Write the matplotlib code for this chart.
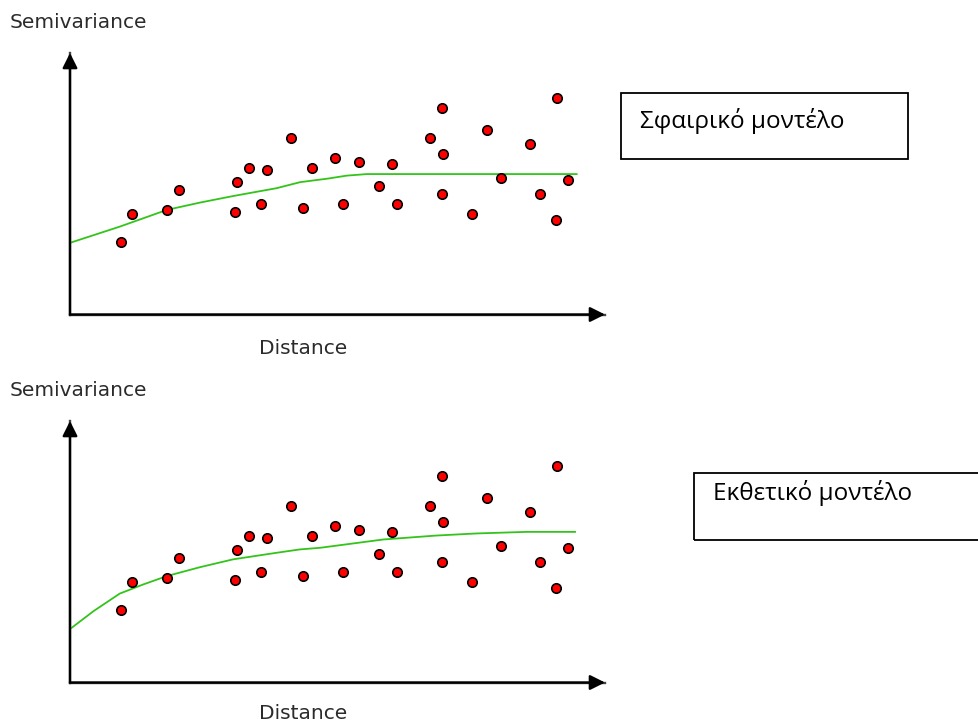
import matplotlib
matplotlib.use("Agg")
import matplotlib.pyplot as plt
from matplotlib.patches import Rectangle

# ---- data (arbitrary units: distance 0-100, semivariance 0-100) ----
dist = [9.6, 11.5, 18.2, 20.4, 30.9, 31.3, 33.5, 35.7, 36.9, 41.4,
        43.6, 45.2, 49.6, 51.1, 54.0, 57.8, 60.1, 61.2, 67.2, 69.5,
        69.8, 69.5, 75.1, 78.0, 80.6, 85.9, 87.8, 90.8, 91.1, 93.0]
semivar = [27.6, 38.4, 40.0, 47.6, 39.2, 50.7, 56.0, 42.3, 55.1, 67.6,
           40.6, 56.0, 59.8, 42.3, 58.3, 49.1, 57.4, 42.3, 67.6, 78.9,
           61.4, 46.1, 38.4, 70.6, 52.1, 65.2, 46.1, 36.1, 82.8, 51.4]

# spherical model curve
sph_x = [0.3, 9.3, 18.1, 24.3, 30.5, 38.6, 43.0, 48.3, 51.7, 55.5, 94.7]
sph_y = [27.6, 33.6, 40.0, 42.8, 45.3, 48.3, 50.6, 52.0, 53.1, 53.7, 53.7]

# exponential model curve
exp_x = [0.3, 4.4, 9.3, 13.7, 18.1, 24.3, 30.5, 38.6, 43.0, 46.7, 58.6, 68.5, 76.0, 85.4, 94.4]
exp_y = [20.9, 27.3, 34.0, 37.5, 40.7, 44.1, 47.1, 49.6, 50.9, 51.5, 54.7, 56.2, 57.0, 57.6, 57.6]

panels = [
    {"curve_x": sph_x, "curve_y": sph_y, "label": "Σφαιρικό μοντέλο"},
    {"curve_x": exp_x, "curve_y": exp_y, "label": "Εκθετικό μοντέλο"},
]

W, H = 979, 724
fig = plt.figure(figsize=(W / 100, H / 100), dpi=100)
fig.patch.set_facecolor("white")


def fx(px):
    return px / W


def fy(py):
    return 1 - py / H


offsets = [0, 368]
dist_label_y = [348.5, 713.5]
axis_color = "#444444"
text_color = "#2b2b2b"

for off, dly, p in zip(offsets, dist_label_y, panels):
    left, right = 70, 605
    top, bottom = 53 + off, 314.5 + off
    ax = fig.add_axes([fx(left), fy(bottom), fx(right) - fx(left), (bottom - top) / H])
    ax.set_xlim(0, 100)
    ax.set_ylim(0, 100)
    ax.axis("off")
    # axes with arrows
    for tip in [(100, 0), (0, 100)]:
        ax.annotate("", xy=tip, xytext=(0, 0), xycoords="data",
                    arrowprops=dict(arrowstyle="-|>,head_length=0.9,head_width=0.45",
                                    color=axis_color, lw=1.7, shrinkA=0, shrinkB=0,
                                    fc="black", ec="black"),
                    annotation_clip=False)
    ax.plot([0, 100], [0, 0], color=axis_color, lw=1.7, clip_on=False, zorder=1)
    ax.plot([0, 0], [0, 100], color=axis_color, lw=1.7, clip_on=False, zorder=1)
    ax.plot(p["curve_x"], p["curve_y"], color="#33c41a", lw=1.3, zorder=2, clip_on=False)
    ax.scatter(dist, semivar, s=46, c="#ff0000", edgecolors="black", linewidths=1.2,
               zorder=3, clip_on=False)
    fig.text(fx(10), fy(23 + off), "Semivariance", fontsize=14.5, color=text_color,
             ha="left", va="center", family="DejaVu Sans")
    fig.text(fx(303.5), fy(dly), "Distance", fontsize=14.5, color=text_color,
             ha="center", va="center", family="DejaVu Sans")

# model text boxes
fig.add_artist(Rectangle((fx(620.7), fy(159.3)), fx(908.3) - fx(620.7), (159.3 - 92.7) / H,
                         transform=fig.transFigure, fill=False, ec="black", lw=1.3))
fig.text(fx(640), fy(121), panels[0]["label"], fontsize=17.5, color="black",
         ha="left", va="center", family=["Open Sans", "DejaVu Sans"])

fig.add_artist(Rectangle((fx(694), fy(540)), fx(990) - fx(694), (540 - 472.7) / H,
                         transform=fig.transFigure, fill=False, ec="black", lw=1.3))
fig.text(fx(713), fy(493), panels[1]["label"], fontsize=17.5, color="black",
         ha="left", va="center", family=["Open Sans", "DejaVu Sans"])

fig.savefig("out.png", dpi=100, facecolor="white")
